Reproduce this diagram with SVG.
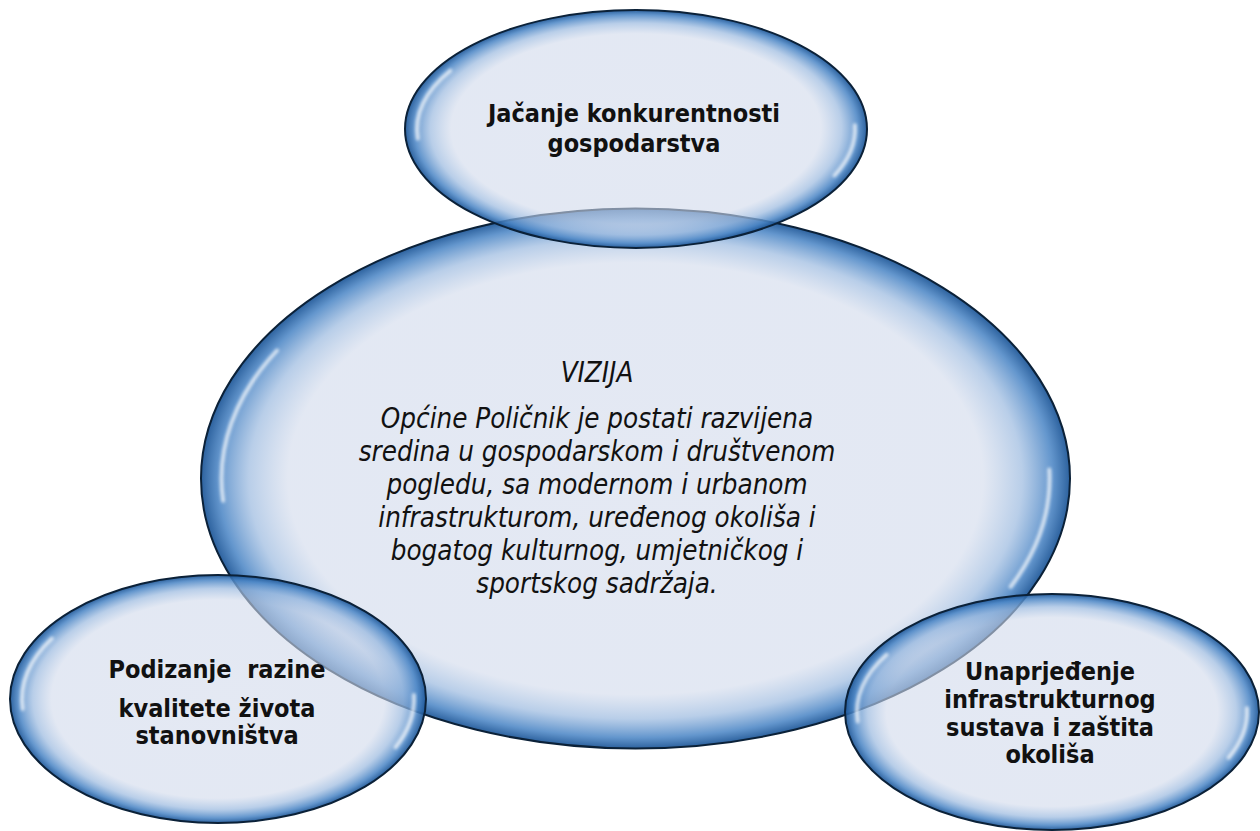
<svg xmlns="http://www.w3.org/2000/svg" width="1260" height="831" viewBox="0 0 1260 831">
<defs>
<radialGradient id="glass" cx="50%" cy="50%" r="50%">
<stop offset="0" stop-color="#d2daeb" stop-opacity="0.6"/>
<stop offset="0.8" stop-color="#d0d9eb" stop-opacity="0.6"/>
<stop offset="0.89" stop-color="#9dbbe0" stop-opacity="0.72"/>
<stop offset="0.96" stop-color="#4a85c5" stop-opacity="0.86"/>
<stop offset="1" stop-color="#1c5596" stop-opacity="0.93"/>
</radialGradient>
<filter id="soft" x="-20%" y="-20%" width="140%" height="140%">
<feGaussianBlur stdDeviation="1.8"/>
</filter>
</defs>
<style>
.bubble{fill:url(#glass);stroke:#0b2138;stroke-width:2}
.hl{fill:none;stroke:#ffffff;stroke-width:4;stroke-linecap:round;opacity:0.7;filter:url(#soft)}
.lbl{font-family:"DejaVu Sans Condensed","DejaVu Sans",sans-serif;font-weight:bold;font-size:25px;fill:#111;text-anchor:middle}
.viz{font-family:"DejaVu Sans Condensed","DejaVu Sans",sans-serif;font-style:italic;font-size:27.5px;fill:#111;text-anchor:middle}
</style>
<rect width="1260" height="831" fill="#ffffff"/>
<g id="node-vizija">
<ellipse class="bubble" cx="635.5" cy="478.5" rx="434.5" ry="270"/>
<path class="hl" d="M223.1,500.8 A414,256 0 0 1 277,350.5"/>
<path class="hl" d="M1049.3,469.6 A414,256 0 0 1 1010.7,586.7"/>
<text class="viz" x="597" y="382">VIZIJA</text>
<text class="viz" x="597" y="428">Općine Poličnik je postati razvijena</text>
<text class="viz" x="597" y="461">sredina u gospodarskom i društvenom</text>
<text class="viz" x="597" y="494">pogledu, sa modernom i urbanom</text>
<text class="viz" x="597" y="527">infrastrukturom, uređenog okoliša i</text>
<text class="viz" x="597" y="560">bogatog kulturnog, umjetničkog i</text>
<text class="viz" x="597" y="593">sportskog sadržaja.</text>
</g>
<g id="node-top">
<ellipse class="bubble" cx="636" cy="129" rx="231" ry="119"/>
<path class="hl" d="M417.8,138.6 A219,110 0 0 1 450.3,70.7"/>
<path class="hl" d="M854.9,125.2 A219,110 0 0 1 834.5,175.5"/>
<text class="lbl" x="634" y="122">Jačanje konkurentnosti</text>
<text class="lbl" x="634" y="152">gospodarstva</text>
</g>
<g id="node-left">
<ellipse class="bubble" cx="218" cy="699" rx="208" ry="124"/>
<path class="hl" d="M22.7,708.9 A196,114 0 0 1 51.8,638.6"/>
<path class="hl" d="M413.9,695 A196,114 0 0 1 395.6,747.2"/>
<text class="lbl" x="217" y="678" xml:space="preserve">Podizanje  razine</text>
<text class="lbl" x="217" y="717">kvalitete života</text>
<text class="lbl" x="217" y="744">stanovništva</text>
</g>
<g id="node-right">
<ellipse class="bubble" cx="1052" cy="712" rx="207" ry="118"/>
<path class="hl" d="M857.7,721.4 A195,108 0 0 1 886.6,654.8"/>
<path class="hl" d="M1246.9,708.2 A195,108 0 0 1 1228.7,757.6"/>
<text class="lbl" x="1050" y="680">Unaprjeđenje</text>
<text class="lbl" x="1050" y="708">infrastrukturnog</text>
<text class="lbl" x="1050" y="736">sustava i zaštita</text>
<text class="lbl" x="1050" y="763">okoliša</text>
</g>
<g id="connectors"/>
</svg>
